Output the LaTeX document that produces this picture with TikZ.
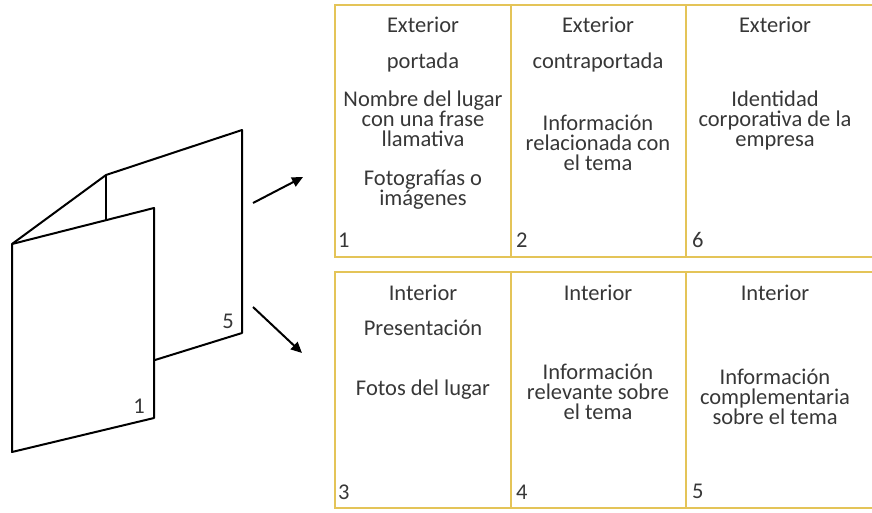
\documentclass[tikz,border=0pt]{standalone}
\usepackage{fontspec}
\setmainfont{Carlito}
\usetikzlibrary{arrows.meta}
\definecolor{gold}{RGB}{228,196,88}
\definecolor{ink}{RGB}{55,55,55}
\begin{document}
\begin{tikzpicture}[x=1pt,y=-1pt,
  cell/.style={draw=gold,line width=1.5pt},
  txt/.style={align=center,inner sep=0pt,text=ink,font=\fontsize{22.5}{20}\selectfont},
  num/.style={anchor=west,inner sep=0pt,text=ink,font=\fontsize{22.5}{20}\selectfont},
  sheet/.style={draw=black,line width=2pt,line join=round},
  arr/.style={-{Triangle[length=11pt,width=10pt]},line width=2pt}]
\useasboundingbox (0,0) rectangle (872,512);
% tables
\draw[cell] (335,5) rectangle (511,257);
\draw[cell] (511,5) rectangle (686,257);
\draw[cell] (686,5) rectangle (876,257);
\draw[cell] (335,272) rectangle (511,508);
\draw[cell] (511,272) rectangle (686,508);
\draw[cell] (686,272) rectangle (876,508);
% top row texts
\node[txt] (e1) at (423,25) {Exterior};
\node[txt] (p1) at (423,62) {portada};
\node[txt] (n1) at (423,119) {Nombre del lugar\\con una frase\\llamativa};
\node[txt] (f1) at (423,190) {Fotografías o\\imágenes};
\node[num] (k1) at (338,240) {1};
\node[txt] (e2) at (598,25) {Exterior};
\node[txt] (c2) at (598,62) {contraportada};
\node[txt] (i2) at (598,143) {Información\\relacionada con\\el tema};
\node[num] (k2) at (516,240) {2};
\node[txt] (e3) at (775,25) {Exterior};
\node[txt] (i3) at (775,120) {Identidad\\corporativa de la\\empresa};
\node[num] (k6) at (692,240) {6};
% bottom row texts
\node[txt] (r3) at (423,293) {Interior};
\node[txt] (ps) at (423,328) {Presentación};
\node[txt] (fl) at (423,390) {Fotos del lugar};
\node[num] (k3) at (338,492) {3};
\node[txt] (r4) at (598,293) {Interior};
\node[txt] (i4) at (598,392) {Información\\relevante sobre\\el tema};
\node[num] (k4) at (516,492) {4};
\node[txt] (r5) at (775,293) {Interior};
\node[txt] (i5) at (775,397) {Información\\complementaria\\sobre el tema};
\node[num] (k5) at (692,491) {5};
% folded leaflet
\coordinate (ftl) at (12,244);
\coordinate (ftr) at (154,208);
\coordinate (fbr) at (154,418);
\coordinate (fbl) at (12,452);
\coordinate (btl) at (106,175);
\coordinate (btr) at (242,130);
\coordinate (bbr) at (242,333);
\coordinate (bbl) at (155,360);
\coordinate (bfold) at (106,220);
\draw[sheet] (ftl) -- (btl) -- (btr) -- (bbr) -- (bbl);
\draw[sheet] (btl) -- (bfold);
\draw[sheet] (ftl) -- (ftr) -- (fbr) -- (fbl) -- cycle;
\node[txt,anchor=center] (l5) at (228,321) {5};
\node[txt,anchor=center] (l1) at (139,406) {1};
% arrows
\coordinate (a1s) at (253,203);
\coordinate (a1e) at (303,177);
\coordinate (a2s) at (253,307);
\coordinate (a2e) at (302,353);
\draw[arr] (a1s) -- (a1e);
\draw[arr] (a2s) -- (a2e);
\end{tikzpicture}
\end{document}
